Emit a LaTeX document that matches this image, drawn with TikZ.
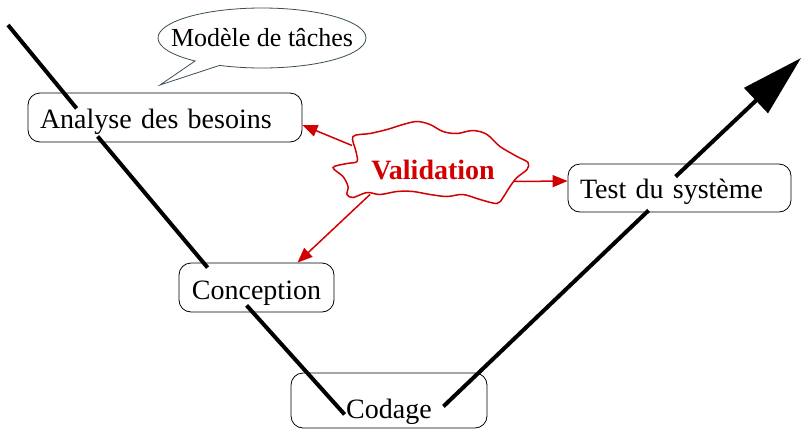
\documentclass[tikz,border=0pt]{standalone}
\usepackage{fontspec}
\setmainfont{Liberation Serif}
\usetikzlibrary{shapes,arrows.meta,calc}
\definecolor{dred}{RGB}{210, 0, 0}
\definecolor{dslate}{RGB}{60, 78, 88}
\tikzstyle{block} = [rectangle, draw, fill=white, rounded corners=12pt, line width=0.8pt,
  inner xsep=12pt, inner ysep=4pt, font=\fontsize{28}{32}\selectfont]
\tikzstyle{bubble} = [ellipse callout, draw=dslate, line width=0.8pt, fill=white,
  font=\fontsize{26}{30}\selectfont]
\tikzstyle{vline} = [draw, line width=4pt, color=black]
\tikzstyle{redline} = [draw, line width=1.5pt, color=dred, -{Triangle[length=15pt,width=12pt]}]

\begin{document}
\begin{tikzpicture}[x=1pt,y=-1pt]
  \useasboundingbox (0,0) rectangle (802,429);
  \node [block, text width=250pt, align=left, text height=31pt, text depth=10pt] (ana) at (165,117.5) {Analyse des besoins};
  \node [block, minimum width=155pt, text height=32pt, text depth=9pt] (conc) at (256.5,287.5) {Conception};
  \node [block, minimum width=196pt, text height=41pt, text depth=6pt] (cod) at (389,400.5) {Codage};
  \node [block, text width=199pt, align=left, text height=30pt, text depth=10pt] (test) at (679.5,188) {Test du système};

  \node [bubble, inner xsep=-18pt, inner ysep=0pt, minimum width=208pt, minimum height=60pt,
    callout absolute pointer={(160,85)}, callout pointer arc=16] (mod) at (262,38) {Modèle de tâches};

  % la validation
  \node [text=dred, font=\bfseries\fontsize{28}{32}\selectfont] (val) at (433,169.5) {Validation};
  \draw [dred, line width=1.5pt, shift={(val.center)}] plot [smooth cycle, tension=0.55] coordinates {
    (-80,-33) (-63,-36) (-46,-40) (-30,-45) (-16,-48) (-3,-45) (10,-38) (24,-36) (40,-39) (54,-35)
    (67,-23) (84,-13) (95,-7) (94,0) (84,8) (77,17) (70,28) (64,34) (47,30) (30,25) (14,27)
    (-3,25) (-20,22) (-36,22) (-53,25) (-66,23) (-80,28) (-86,25) (-85,17) (-90,7) (-100,-2)
    (-86,-6) (-76,-8) (-77,-18)};
  \path [redline] ($(val.center)+(-81,-24)$) -- ($(ana.east)+(0,7.5)$);
  \path [redline] ($(val.center)+(80,12)$) -- ($(test.west)+(0,-7)$);
  \path [redline] ($(val.center)+(-63,25)$) -- ($(conc.north)+(41,0)$);

  % le cycle en V
  \coordinate (top) at (8,25);
  \coordinate (tip) at (801,58);
  \path [vline] (top) -- ($(ana.south west)+(49,-34)$);
  \path [vline] ($(ana.south west)+(70,-6)$) -- ($(conc.north west)+(29,5)$);
  \path [vline] ($(conc.south west)+(68,-7)$) -- ($(cod.south west)+(54,-14)$);
  \path [vline] ($(cod.south east)+(-44,-22)$) -- ($(test.south west)+(81,-2)$);
  \path [vline, -{Triangle[length=62pt,width=34pt]}] ($(test.north west)+(108,13)$) -- (tip);
\end{tikzpicture}
\end{document}
